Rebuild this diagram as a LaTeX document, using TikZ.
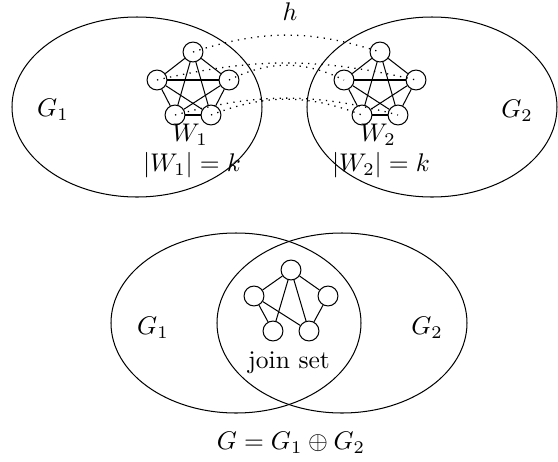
\documentclass[tikz,border=0pt]{standalone}
\usepackage{amsmath}
\usepackage{tikz}

\begin{document}
\begin{tikzpicture}[x=0.392pt, y=0.392pt,
    vtx/.style={circle, draw, minimum size=7.8pt, inner sep=0pt},
    link/.style={line width=0.5pt, dash pattern=on 0.5pt off 2.1pt}]
      \useasboundingbox (0,0) rectangle (558,461);

      % Hai đồ thị G1, G2 (phía trên)
      \draw (137,354) ellipse (125 and 90);
      \draw (432,354) ellipse (125 and 90);
      \node (g1a) at (53,351) {$G_1$};
      \node (g2a) at (517,350) {$G_2$};
      \node (h) at (290,449) {$h$};

      % Tập W1
      \node[vtx] (u1) at (193,409) {};
      \node[vtx] (u2) at (157,381) {};
      \node[vtx] (u3) at (229,381) {};
      \node[vtx] (u4) at (175,346) {};
      \node[vtx] (u5) at (211,346) {};
      \draw (u1) -- (u2); \draw (u1) -- (u3); \draw (u1) -- (u4); \draw (u1) -- (u5);
      \draw (u2) -- (u3); \draw (u2) -- (u4); \draw (u2) -- (u5);
      \draw (u3) -- (u4); \draw (u3) -- (u5); \draw (u4) -- (u5);
      \node (w1name) at (190,326) {$W_1$};
      \node (w1size) at (192,296) {$|W_1| = k$};

      % Tập W2
      \node[vtx] (v1) at (380,409) {};
      \node[vtx] (v2) at (344,381) {};
      \node[vtx] (v3) at (416,381) {};
      \node[vtx] (v4) at (362,346) {};
      \node[vtx] (v5) at (398,346) {};
      \draw (v1) -- (v2); \draw (v1) -- (v3); \draw (v1) -- (v4); \draw (v1) -- (v5);
      \draw (v2) -- (v3); \draw (v2) -- (v4); \draw (v2) -- (v5);
      \draw (v3) -- (v4); \draw (v3) -- (v5); \draw (v4) -- (v5);
      \node (w2name) at (378,326) {$W_2$};
      \node (w2size) at (381,296) {$|W_2| = k$};

      % Các cạnh nối W1 -- W2
      \draw[link] (u1.center) to[bend left=18] (v1.center);
      \draw[link] (u2.center) to[bend left=13] (v3.center);
      \draw[link] (u3.center) to[bend left=26] (v2.center);
      \draw[link] (u4.center) to[bend left=15] (v5.center);
      \draw[link] (u5.center) to[bend left=21] (v4.center);

      % Đồ thị G = G1 + G2 (phía dưới)
      \draw (236,138) ellipse (125 and 90);
      \draw (342,138) ellipse (125 and 90);
      \node (g1b) at (153,133) {$G_1$};
      \node (g2b) at (427,133) {$G_2$};

      % Tập nối
      \node[vtx] (j1) at (291,191) {};
      \node[vtx] (j2) at (254,165) {};
      \node[vtx] (j3) at (328,165) {};
      \node[vtx] (j4) at (273,130) {};
      \node[vtx] (j5) at (309,130) {};
      \draw (j1) -- (j2); \draw (j1) -- (j3); \draw (j1) -- (j4); \draw (j1) -- (j5);
      \draw (j2) -- (j4); \draw (j2) -- (j5); \draw (j3) -- (j5);
      \node (join) at (289,98) {join set};
      \node (gsum) at (291,18) {$G = G_1 \oplus G_2$};
    \end{tikzpicture}
\end{document}
